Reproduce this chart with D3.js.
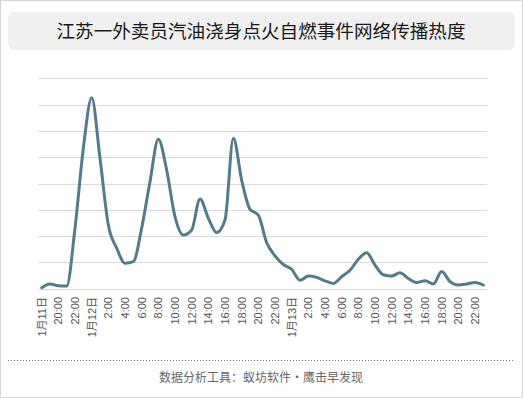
<!DOCTYPE html>
<html lang="zh">

<head>
    <meta charset="UTF-8" />
    <script src="https://d3js.org/d3.v7.min.js"></script>
    <title>江苏一外卖员汽油浇身点火自燃事件网络传播热度</title>
    <style>
        body { margin: 0; background: #fff; }
        svg { display: block; }
    </style>
</head>

<body>
    <script>
        var title = "江苏一外卖员汽油浇身点火自燃事件网络传播热度";
        var source = "数据分析工具：蚁坊软件・鹰击早发现";

        // hourly points, 1月11日 18:00 -> 1月13日 23:00
        var hours = [
            "11日18时", "11日19时", "11日20时", "11日21时", "11日22时", "11日23时",
            "12日0时", "12日1时", "12日2时", "12日3时", "12日4时", "12日5时",
            "12日6时", "12日7时", "12日8时", "12日9时", "12日10时", "12日11时",
            "12日12时", "12日13时", "12日14时", "12日15时", "12日16时", "12日17时",
            "12日18时", "12日19时", "12日20时", "12日21时", "12日22时", "12日23时",
            "13日0时", "13日1时", "13日2时", "13日3时", "13日4时", "13日5时",
            "13日6时", "13日7时", "13日8时", "13日9时", "13日10时", "13日11时",
            "13日12时", "13日13时", "13日14时", "13日15时", "13日16时", "13日17时",
            "13日18时", "13日19时", "13日20时", "13日21时", "13日22时", "13日23时"
        ];

        var heat = [
            0.04, 0.18, 0.11, 0.10, 2.30, 5.34,
            7.26, 4.96, 2.42, 1.54, 0.97, 1.03,
            2.30, 4.07, 5.68, 4.51, 2.74, 2.04,
            2.23, 3.41, 2.68, 2.13, 2.61, 5.72,
            4.13, 3.02, 2.80, 1.75, 1.25, 0.92,
            0.74, 0.32, 0.48, 0.43, 0.30, 0.20,
            0.46, 0.70, 1.12, 1.37, 0.90, 0.53,
            0.48, 0.61, 0.39, 0.24, 0.30, 0.18,
            0.65, 0.27, 0.14, 0.18, 0.24, 0.14
        ];

        // one label every two hours
        var tickLabels = [
            "1月11日", "20:00", "22:00",
            "1月12日", "2:00", "4:00", "6:00", "8:00", "10:00", "12:00",
            "14:00", "16:00", "18:00", "20:00", "22:00",
            "1月13日", "2:00", "4:00", "6:00", "8:00", "10:00", "12:00",
            "14:00", "16:00", "18:00", "20:00", "22:00"
        ];

        var gridLevels = [1, 2, 3, 4, 5, 6, 7, 8];

        var width = 523, height = 398;
        var font = "'Liberation Sans', 'Noto Sans CJK SC', sans-serif";

        var svg = d3.select("body").append("svg")
            .attr("width", width)
            .attr("height", height);

        // outer frame
        svg.append("rect")
            .attr("x", 0.5).attr("y", 0.5)
            .attr("width", width - 1).attr("height", height - 1)
            .attr("fill", "#fff")
            .attr("stroke", "#d4d4d4");

        // title box
        svg.append("rect")
            .attr("x", 8).attr("y", 12)
            .attr("width", 507).attr("height", 38)
            .attr("rx", 6)
            .attr("fill", "#f0f0f0");

        svg.append("text")
            .attr("x", 261).attr("y", 31)
            .attr("dy", "0.36em")
            .attr("text-anchor", "middle")
            .style("font-family", "'Noto Sans CJK SC', sans-serif")
            .style("font-size", "18.6px")
            .attr("fill", "#1a1a1a")
            .text(title);

        var x = d3.scaleBand().domain(hours).range([37.5, 487.5]);
        var y = d3.scaleLinear().domain([0, 8]).range([288.7, 78.3]);

        // grid
        svg.append("g").selectAll("line").data([0].concat(gridLevels))
            .enter().append("line")
            .attr("x1", 38).attr("x2", 487)
            .attr("y1", (d) => Math.round(y(d)) + 0.5)
            .attr("y2", (d) => Math.round(y(d)) + 0.5)
            .attr("stroke", "#d9d9d9")
            .attr("stroke-width", 1);

        // line
        var line = d3.line()
            .x((d, i) => x(hours[i]) + x.bandwidth() / 2)
            .y((d) => y(d))
            .curve(d3.curveMonotoneX);

        svg.append("path")
            .datum(heat)
            .attr("d", line)
            .attr("fill", "none")
            .attr("stroke", "#527b8e")
            .attr("stroke-width", 3)
            .attr("stroke-linejoin", "round")
            .attr("stroke-linecap", "round");

        // x labels (rotated)
        svg.append("g").selectAll("text").data(tickLabels)
            .enter().append("text")
            .each(function (d, i) {
                var cx = x(hours[i * 2]) + x.bandwidth() / 2;
                d3.select(this)
                    .attr("transform", "translate(" + cx + ",297) rotate(-90)")
                    .attr("dy", "0.36em")
                    .attr("text-anchor", "end")
                    .style("font-family", font)
                    .style("font-size", "11px")
                    .attr("fill", "#555")
                    .text(d);
            });

        // footer
        svg.append("line")
            .attr("x1", 8).attr("x2", 515)
            .attr("y1", 360.5).attr("y2", 360.5)
            .attr("stroke", "#777")
            .attr("stroke-dasharray", "1,2");

        svg.append("text")
            .attr("x", 261).attr("y", 378)
            .attr("dy", "0.36em")
            .attr("text-anchor", "middle")
            .style("font-family", "'Noto Sans CJK SC', sans-serif")
            .style("font-size", "12px")
            .attr("fill", "#666")
            .text(source);
    </script>
</body>

</html>
